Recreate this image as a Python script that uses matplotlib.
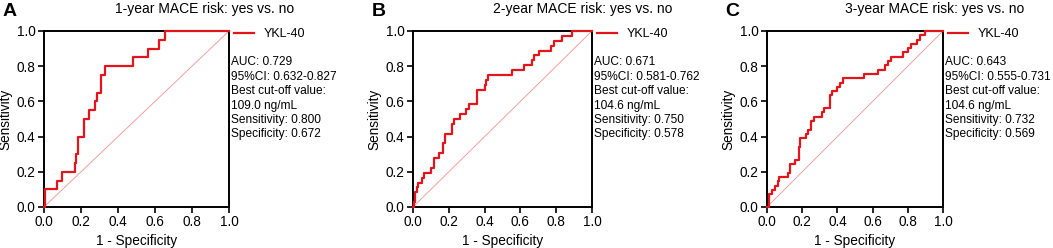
import matplotlib.pyplot as plt
import numpy as np

plt.rcParams['font.family'] = ['Liberation Sans', 'DejaVu Sans']

# ROC step points (1 - specificity, sensitivity)
fpr_a = [0.0, 0.005, 0.005, 0.072, 0.072, 0.099, 0.099, 0.166, 0.166, 0.175, 0.175, 0.185, 0.185,
         0.217, 0.217, 0.242, 0.242, 0.274, 0.274, 0.285, 0.285, 0.307, 0.307, 0.328, 0.328,
         0.48, 0.48, 0.56, 0.56, 0.62, 0.62, 0.655, 0.655, 1.0]
tpr_a = [0.0, 0.0, 0.1, 0.1, 0.15, 0.15, 0.2, 0.2, 0.25, 0.25, 0.3, 0.3, 0.4,
         0.4, 0.5, 0.5, 0.55, 0.55, 0.6, 0.6, 0.65, 0.65, 0.75, 0.75, 0.8,
         0.8, 0.85, 0.85, 0.9, 0.9, 0.95, 0.95, 1.0, 1.0]

fpr_b = [0.0, 0.005, 0.005, 0.01, 0.01, 0.02, 0.02, 0.03, 0.03, 0.05, 0.05, 0.06, 0.06,
         0.1, 0.1, 0.12, 0.12, 0.146, 0.146, 0.17, 0.17, 0.18, 0.18, 0.216, 0.216, 0.23, 0.23,
         0.263, 0.263, 0.298, 0.298, 0.315, 0.315, 0.356, 0.356, 0.40, 0.40, 0.41, 0.41,
         0.42, 0.42, 0.552, 0.552, 0.62, 0.62, 0.664, 0.664, 0.678, 0.678, 0.703, 0.703,
         0.77, 0.77, 0.785, 0.785, 0.83, 0.83, 0.887, 0.887, 1.0]
tpr_b = [0.0, 0.0, 0.028, 0.028, 0.083, 0.083, 0.111, 0.111, 0.139, 0.139, 0.167, 0.167, 0.194,
         0.194, 0.222, 0.222, 0.278, 0.278, 0.306, 0.306, 0.361, 0.361, 0.417, 0.417, 0.472, 0.472, 0.5,
         0.5, 0.528, 0.528, 0.556, 0.556, 0.583, 0.583, 0.667, 0.667, 0.694, 0.694, 0.722,
         0.722, 0.75, 0.75, 0.778, 0.778, 0.806, 0.806, 0.833, 0.833, 0.861, 0.861, 0.889,
         0.889, 0.917, 0.917, 0.944, 0.944, 0.972, 0.972, 1.0, 1.0]

fpr_c = [0.0, 0.01, 0.01, 0.03, 0.03, 0.045, 0.045, 0.06, 0.06, 0.07, 0.07, 0.118, 0.118,
         0.13, 0.13, 0.159, 0.159, 0.18, 0.18, 0.19, 0.19, 0.22, 0.22, 0.235, 0.235, 0.25, 0.25,
         0.265, 0.265, 0.314, 0.314, 0.325, 0.325, 0.36, 0.36, 0.37, 0.37, 0.40, 0.40,
         0.415, 0.415, 0.43, 0.43, 0.553, 0.553, 0.63, 0.63, 0.673, 0.673, 0.69, 0.69,
         0.705, 0.705, 0.77, 0.77, 0.80, 0.80, 0.82, 0.82, 0.85, 0.85, 0.87, 0.87, 0.90, 0.90, 1.0]
tpr_c = [0.0, 0.0, 0.073, 0.073, 0.098, 0.098, 0.122, 0.122, 0.146, 0.146, 0.171, 0.171, 0.195,
         0.195, 0.244, 0.244, 0.268, 0.268, 0.341, 0.341, 0.39, 0.39, 0.415, 0.415, 0.439, 0.439, 0.488,
         0.488, 0.512, 0.512, 0.537, 0.537, 0.561, 0.561, 0.634, 0.634, 0.659, 0.659, 0.683,
         0.683, 0.707, 0.707, 0.732, 0.732, 0.756, 0.756, 0.78, 0.78, 0.805, 0.805, 0.829,
         0.829, 0.854, 0.854, 0.878, 0.878, 0.902, 0.902, 0.927, 0.927, 0.951, 0.951, 0.976, 0.976, 1.0, 1.0]

letters = ['A', 'B', 'C']
titles = ['1-year MACE risk: yes vs. no', '2-year MACE risk: yes vs. no', '3-year MACE risk: yes vs. no']
auc = ['0.729', '0.671', '0.643']
ci = ['0.632-0.827', '0.581-0.762', '0.555-0.731']
cutoff = ['109.0', '104.6', '104.6']
sens = ['0.800', '0.750', '0.732']
spec = ['0.672', '0.578', '0.569']
curves = [(fpr_a, tpr_a), (fpr_b, tpr_b), (fpr_c, tpr_c)]

W, H = 1053, 248
# axes boxes in pixels: left, right, top, bottom
boxes = [(44, 229, 31, 207), (413, 592, 31, 207), (767, 943, 31, 207)]
title_cx = [205, 583, 935]
letter_x = [3, 372, 725]

fig = plt.figure(figsize=(W / 100, H / 100), dpi=100)
red = '#E3141B'

for i in range(3):
    l, r, t, b = boxes[i]
    ax = fig.add_axes([l / W, 1 - b / H, (r - l) / W, (b - t) / H])
    fpr, tpr = curves[i]
    ax.plot([0, 1], [0, 1], color='#F4A0A0', lw=0.7, zorder=2)
    ax.plot(fpr, tpr, color=red, lw=1.6, clip_on=False, zorder=5, label='YKL-40')
    ax.set_xlim(0, 1)
    ax.set_ylim(0, 1)
    ax.set_xticks(np.arange(0, 1.01, 0.2))
    ax.set_yticks(np.arange(0, 1.01, 0.2))
    ax.xaxis.set_major_formatter(plt.FormatStrFormatter('%.1f'))
    ax.yaxis.set_major_formatter(plt.FormatStrFormatter('%.1f'))
    for s in ax.spines.values():
        s.set_linewidth(1.4)
        s.set_zorder(3)
    ax.tick_params(direction='out', length=4, width=1.2, labelsize=9.8, pad=2)
    ax.set_xlabel('1 - Specificity', fontsize=9.8, labelpad=3)
    ax.set_ylabel('Sensitivity', fontsize=9.8, labelpad=3)

    fig.text(title_cx[i] / W, 1 - 9 / H, titles[i], ha='center', va='center', fontsize=10)
    fig.text(letter_x[i] / W, 1 - 12 / H, letters[i], ha='left', va='center',
             fontsize=14, fontweight='bold')

    ax.legend(loc='center left', bbox_to_anchor=((r + 5) / W, 1 - 34 / H),
              bbox_transform=fig.transFigure, frameon=False, fontsize=9,
              handlelength=1.6, handletextpad=0.8, borderpad=0, borderaxespad=0)

    lines = ['AUC: ' + auc[i], '95%CI: ' + ci[i], 'Best cut-off value:',
             cutoff[i] + ' ng/mL', 'Sensitivity: ' + sens[i], 'Specificity: ' + spec[i]]
    for k, s in enumerate(lines):
        fig.text((r + 2) / W, 1 - (62 + 14.5 * k) / H, s, ha='left', va='center', fontsize=8.6)

fig.savefig('out.png', dpi=100)
